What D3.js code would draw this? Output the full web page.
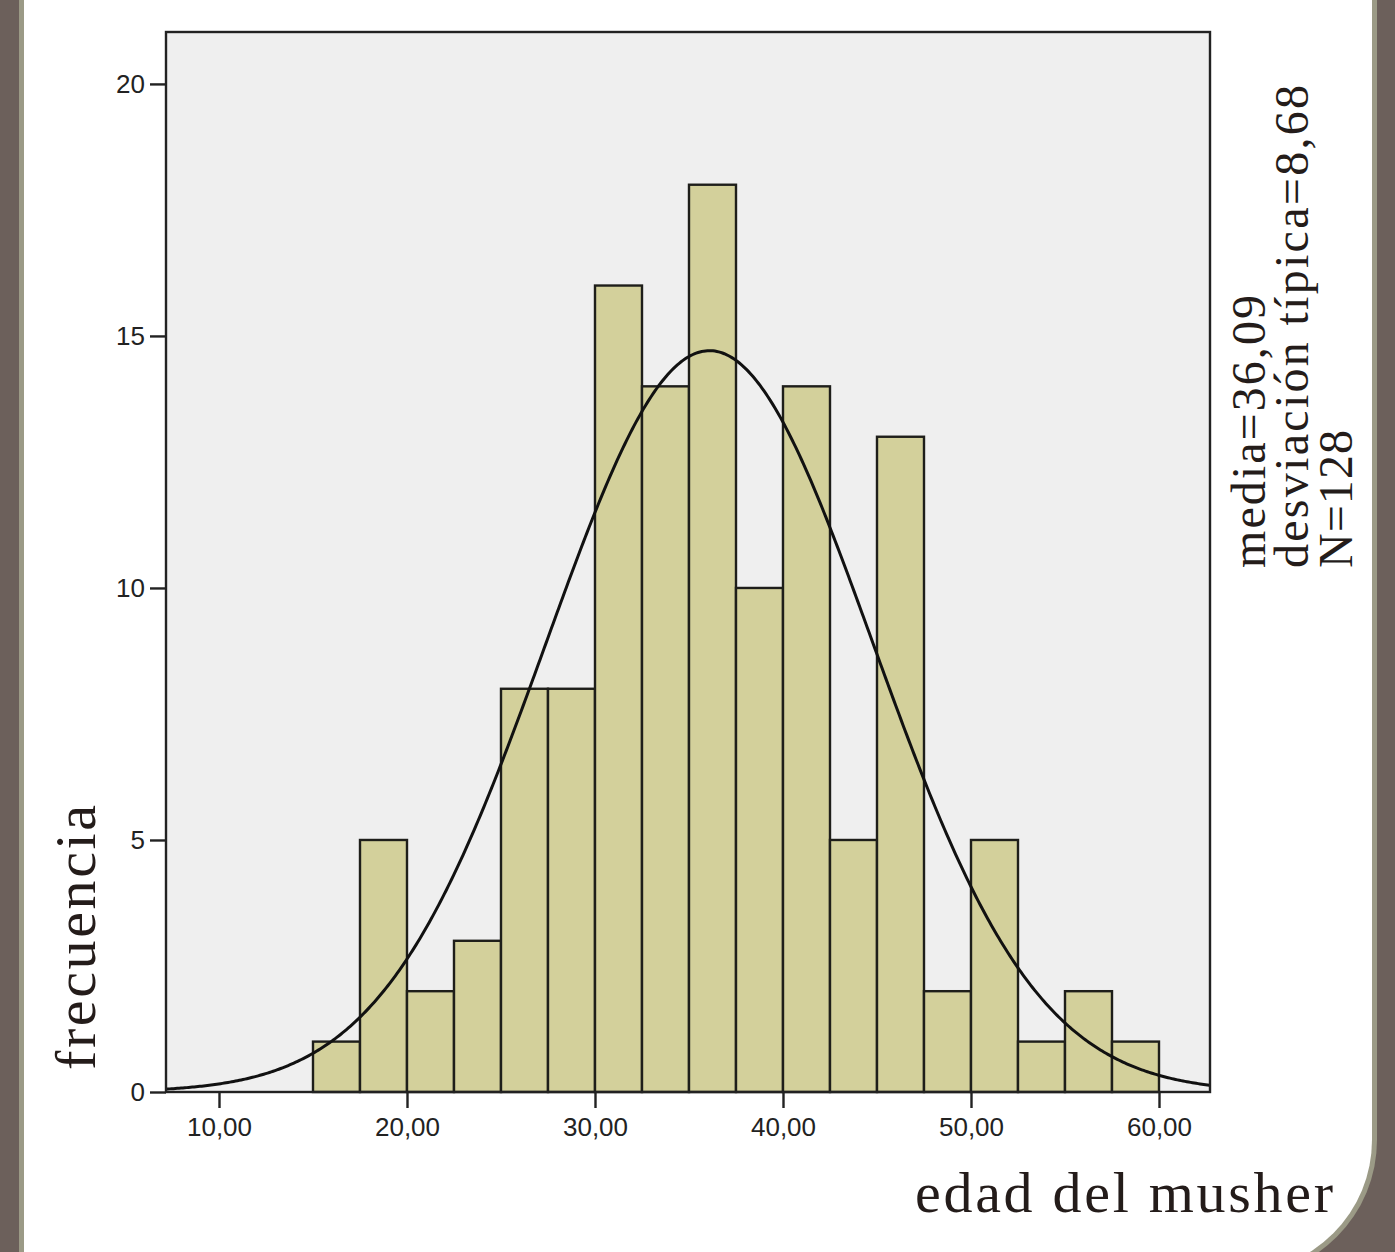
<!DOCTYPE html>
<html>
<head>
<meta charset="utf-8">
<script src="https://cdn.jsdelivr.net/npm/d3@7"></script>
<style>
  body { margin: 0; background: #6c605b; }
  svg { display: block; }
</style>
</head>
<body>
<script>
// histogram bins (edad del musher), width 2.5
let binStarts = [15, 17.5, 20, 22.5, 25, 27.5, 30, 32.5, 35, 37.5, 40, 42.5, 45, 47.5, 50, 52.5, 55, 57.5];
let counts    = [1, 5, 2, 3, 8, 8, 16, 14, 18, 10, 14, 5, 13, 2, 5, 1, 2, 1];
let binWidth = 2.5;

let media = 36.09;
let desv = 8.68;
let N = 128;

let xTicks = [10, 20, 30, 40, 50, 60];
let yTicks = [0, 5, 10, 15, 20];
let statLines = ["media=36,09", "desviación típica=8,68", "N=128"];

let w = 1395, h = 1252;

let svg = d3.select("body").append("svg")
  .attr("width", w)
  .attr("height", h);

// page background: brown border, olive line, white panel with rounded corner
svg.append("rect").attr("width", w).attr("height", h).attr("fill", "#6c605b");
svg.append("path")
  .attr("d", "M19,0 H1377 V1140 A137,137 0 0 1 1240,1277 H19 Z")
  .attr("fill", "#9b9a86");
svg.append("path")
  .attr("d", "M24,0 H1372 V1140 A132,132 0 0 1 1240,1272 H24 Z")
  .attr("fill", "#ffffff");

let pLeft = 166, pRight = 1210, pTop = 32, pBottom = 1092;

let xScale = d3.scaleLinear()
  .domain([7.181, 62.713])
  .range([pLeft, pRight]);

let yScale = d3.scaleLinear()
  .domain([0, 21.03])
  .range([pBottom, pTop]);

// plot background
svg.append("rect")
  .attr("x", pLeft).attr("y", pTop)
  .attr("width", pRight - pLeft).attr("height", pBottom - pTop)
  .attr("fill", "#efefef");

// bars
svg.selectAll("rect.bar")
  .data(counts)
  .enter()
  .append("rect")
  .attr("class", "bar")
  .attr("x", (d, i) => xScale(binStarts[i]))
  .attr("y", d => yScale(d))
  .attr("width", (d, i) => xScale(binStarts[i] + binWidth) - xScale(binStarts[i]))
  .attr("height", d => yScale(0) - yScale(d))
  .attr("fill", "#d3d09b")
  .attr("stroke", "#1e1e1a")
  .attr("stroke-width", 2.4);

// normal curve from the stated mean / sd / N
let xs = d3.range(7.181, 62.72, 0.1);
let normal = x => N * binWidth / (desv * Math.sqrt(2 * Math.PI)) * Math.exp(-0.5 * Math.pow((x - media) / desv, 2));

let line = d3.line()
  .x(d => xScale(d))
  .y(d => yScale(normal(d)));

svg.append("path")
  .datum(xs)
  .attr("d", line)
  .attr("fill", "none")
  .attr("stroke", "#111")
  .attr("stroke-width", 3);

// frame
svg.append("rect")
  .attr("x", pLeft).attr("y", pTop)
  .attr("width", pRight - pLeft).attr("height", pBottom - pTop)
  .attr("fill", "none")
  .attr("stroke", "#222")
  .attr("stroke-width", 2.4);

// axes
let xAxis = d3.axisBottom(xScale)
  .tickValues(xTicks)
  .tickSize(16)
  .tickPadding(10)
  .tickFormat(d => d3.format(".2f")(d).replace(".", ","));

let yAxis = d3.axisLeft(yScale)
  .tickValues(yTicks)
  .tickSize(16)
  .tickPadding(5)
  .tickFormat(d3.format("d"));

let gx = svg.append("g")
  .attr("transform", "translate(0," + pBottom + ")")
  .call(xAxis);

let gy = svg.append("g")
  .attr("transform", "translate(" + pLeft + ",0)")
  .call(yAxis);

[gx, gy].forEach(g => {
  g.select(".domain").remove();
  g.selectAll(".tick line").attr("stroke", "#222").attr("stroke-width", 2.4);
  g.selectAll(".tick text")
    .attr("fill", "#222")
    .style("font-family", "'Liberation Sans', Arial, sans-serif")
    .style("font-size", "26px");
});

// axis titles
let serif = "'Liberation Serif', 'DejaVu Serif', serif";

svg.append("text")
  .attr("transform", "translate(95,1070) rotate(-90)")
  .attr("textLength", 265)
  .style("font-family", serif)
  .style("font-size", "58px")
  .attr("fill", "#241c1a")
  .text("frecuencia");

svg.append("text")
  .attr("x", 915)
  .attr("y", 1212)
  .attr("textLength", 418)
  .style("font-family", serif)
  .style("font-size", "58px")
  .attr("fill", "#241c1a")
  .text("edad del musher");

// stats text, rotated
let statX = [1265, 1308, 1352];
let statLen = [273, 483, 138];
statLines.forEach((s, i) => {
  svg.append("text")
    .attr("transform", "translate(" + statX[i] + ",568) rotate(-90)")
    .attr("textLength", statLen[i])
    .style("font-family", serif)
    .style("font-size", "48px")
    .attr("fill", "#241c1a")
    .text(s);
});
</script>
</body>
</html>
